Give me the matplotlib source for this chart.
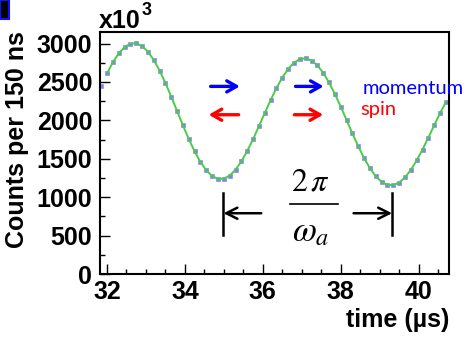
import numpy as np
import matplotlib
matplotlib.use("Agg")
import matplotlib.pyplot as plt
from matplotlib.patches import Rectangle

# counts per 150 ns bin
bin_start = 31.85   # us, first bin centre
bin_width = 0.15    # us
counts = [2445, 2611, 2755, 2871, 2953, 2997, 3002, 2968, 2894, 2786,
          2648, 2486, 2307, 2121, 1934, 1756, 1595, 1457, 1349, 1275,
          1238, 1241, 1281, 1357, 1466, 1601, 1756, 1923, 2095, 2263,
          2420, 2557, 2669, 2751, 2797, 2807, 2779, 2716, 2619, 2493,
          2344, 2179, 2005, 1830, 1662, 1509, 1377, 1272, 1198, 1160,
          1157, 1190, 1257, 1355, 1478, 1620, 1775, 1936, 2094, 2235]
fit_from = 1  # fit curve starts at the second bin

x_ticks = [32, 34, 36, 38, 40]
y_ticks = [0, 500, 1000, 1500, 2000, 2500, 3000]

t = bin_start + bin_width * np.arange(len(counts))
counts = np.array(counts)

W, H = 467, 338
fig = plt.figure(figsize=(W / 100, H / 100), dpi=100)
ax = fig.add_axes([100 / W, 1 - 274 / H, 349 / W, (274 - 32) / H])

bold = dict(family="Liberation Sans", weight="bold")

# data points and fit
ax.plot(t, counts, ls="none", marker="s", ms=2.6, mfc="#6a6af0", mec="#8c8cf5",
        mew=0.6, alpha=0.85, zorder=2)
ax.plot(t[fit_from:], counts[fit_from:], color="#4ccc44", lw=1.4, zorder=3)

ax.set_xlim(31.82, 40.78)
ax.set_ylim(0, 3150)
ax.set_xticks(x_ticks)
ax.set_yticks(y_ticks)
ax.set_xticks(np.arange(32, 41, 0.5), minor=True)
ax.set_yticks(np.arange(0, 3150, 250), minor=True)
ax.set_xticklabels([str(v) for v in x_ticks], fontsize=18, **bold)
ax.set_yticklabels([str(v) for v in y_ticks], fontsize=18, **bold)
ax.tick_params(which="both", direction="in", top=False, right=False, width=1.0)
ax.tick_params(which="major", length=7.2)
ax.tick_params(which="minor", length=3.6)
ax.tick_params(axis="y", pad=5.5)
ax.tick_params(axis="x", pad=4.5)
for sp in ax.spines.values():
    sp.set_linewidth(1.5)

# momentum / spin arrows
arr = dict(arrowstyle="->,head_length=0.7,head_width=0.4", lw=2.4,
           shrinkA=0, shrinkB=0)
ax.annotate("", xy=(35.41, 2442), xytext=(34.66, 2442), arrowprops=dict(color="#0000ff", **arr))
ax.annotate("", xy=(37.56, 2442), xytext=(36.84, 2442), arrowprops=dict(color="#0000ff", **arr))
ax.annotate("", xy=(34.61, 2073), xytext=(35.38, 2073), arrowprops=dict(color="#ff0000", **arr))
ax.annotate("", xy=(37.55, 2073), xytext=(36.81, 2073), arrowprops=dict(color="#ff0000", **arr))
ax.text(38.55, 2347, "momentum", color="#0000ff", fontsize=14.5, family="Lato",
        va="baseline", ha="left", clip_on=False)
ax.text(38.49, 2064, "spin", color="#ff0000", fontsize=14.5, family="Lato",
        va="baseline", ha="left", clip_on=False)

# period marker 2pi/omega_a
ax.plot([34.99, 34.99], [508, 1056], color="black", lw=1.8)
ax.plot([39.32, 39.32], [508, 1056], color="black", lw=1.8)
dim = dict(arrowstyle="->,head_length=0.8,head_width=0.4", lw=1.8, color="black",
           shrinkA=0, shrinkB=0)
ax.annotate("", xy=(34.99, 791), xytext=(35.96, 791), arrowprops=dim)
ax.annotate("", xy=(39.32, 791), xytext=(38.33, 791), arrowprops=dim)
ax.plot([36.69, 37.92], [913, 913], color="black", lw=1.2)
plt.rcParams["mathtext.fontset"] = "stix"
ax.text(37.22, 1200, r"$2\,\pi$", fontsize=23, ha="center", va="center")
ax.text(37.22, 560, r"$\omega_a$", fontsize=25, ha="center", va="center")

# axis titles and exponent
fig.text(449 / W, 1 - 326.7 / H, "time (\u00b5s)", ha="right", va="baseline",
         fontsize=18, **bold)
fig.text(17 / W, 1 - 139.5 / H, "Counts per 150 ns", rotation=90, ha="center",
         va="center", fontsize=18, **bold)
fig.text(99 / W, 1 - 28 / H, "x10", ha="left", va="baseline", fontsize=18, **bold)
fig.text(142 / W, 1 - 15 / H, "3", ha="left", va="baseline", fontsize=13, **bold)

# slide artefact in the corner
fig.patches.append(Rectangle((0, (H - 19) / H), 9 / W, 19 / H, transform=fig.transFigure,
                             facecolor="black", edgecolor="#1010ff", lw=1.5))

fig.savefig("out.png", dpi=100)
